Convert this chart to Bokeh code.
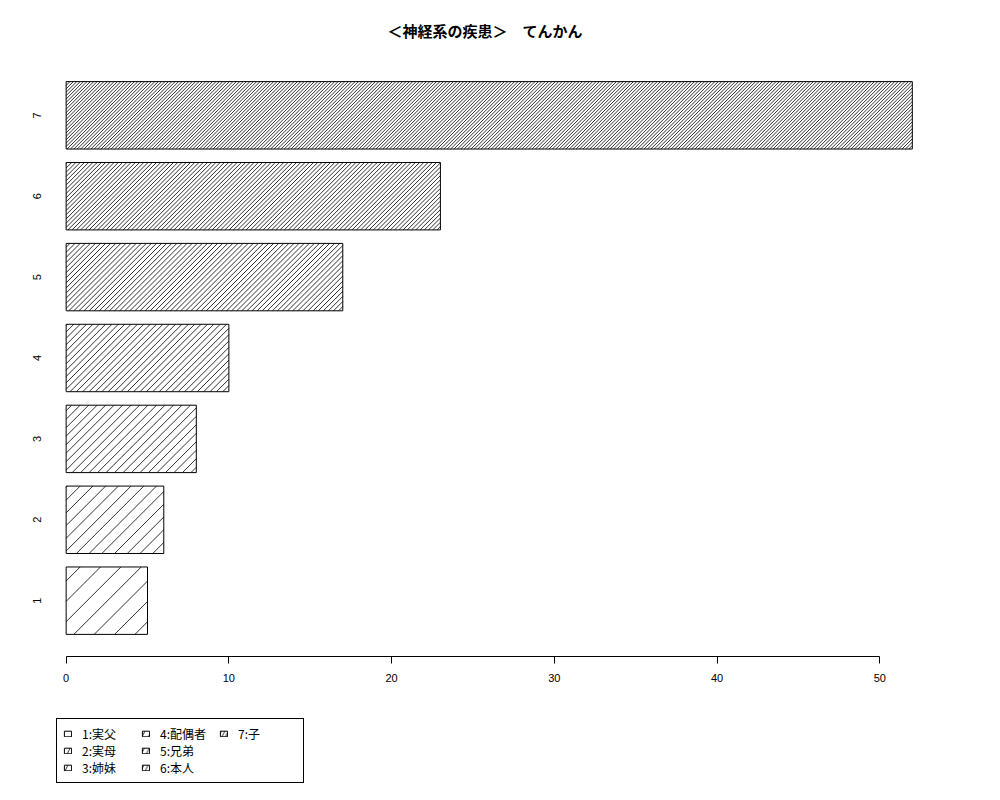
import math
from bokeh.plotting import figure
from bokeh.layouts import column
from bokeh.models import ColumnDataSource, Range1d, FixedTicker, Legend, LegendItem
from bokeh.core.properties import value
from bokeh.embed import file_html
from bokeh.resources import INLINE

# ---- data ----
categories = ["1", "2", "3", "4", "5", "6", "7"]
counts = [5, 6, 8, 10, 17, 23, 52]
legend_labels = ["1:実父", "2:実母", "3:姉妹", "4:配偶者", "5:兄弟", "6:本人", "7:子"]
title_text = "＜神経系の疾患＞　てんかん"
x_ticks = [0, 10, 20, 30, 40, 50]

# ---- style ----
hatch_density = [5, 8, 12, 16, 20, 24, 30]   # hatch lines per inch (R style)
LAT = "Liberation Sans, 'Noto Sans CJK JP'"
CJK = "'Noto Sans CJK JP', Liberation Sans"
FRAME_W, FRAME_H = 923, 597

n = len(counts)
bar_w, space = 1.0, 0.2
centers = [space + bar_w / 2 + i * (bar_w + space) for i in range(n)]

# R-style ranges (4% extension)
x_lo, x_hi = min(-0.01 * max(counts), 0), max(counts)
dx = 0.04 * (x_hi - x_lo)
y_lo, y_hi = space, n * (bar_w + space)
dy = 0.04 * (y_hi - y_lo)
xr = Range1d(x_lo - dx, x_hi + dx)
yr = Range1d(y_lo - dy, y_hi + dy)

spacing_px = [72 * math.sqrt(2) / d for d in hatch_density]
src = ColumnDataSource(dict(y=centers, count=counts, cat=categories,
                            hs=[2 * s for s in spacing_px]))

p = figure(frame_width=FRAME_W, frame_height=FRAME_H, x_range=xr, y_range=yr,
           output_backend="svg", toolbar_location=None, y_axis_location=None,
           min_border_left=23, min_border_right=46, min_border_top=57, min_border_bottom=41)
p.outline_line_color = None
p.xgrid.visible = False
p.ygrid.visible = False
p.background_fill_color = "white"
p.border_fill_color = "white"

p.title.text = title_text
p.title.align = "center"
p.title.vertical_align = "middle"
p.title.text_font = CJK
p.title.text_font_size = "15px"
p.title.text_font_style = "bold"
p.title.text_color = "black"
p.title.standoff = 36

ax = p.xaxis[0]
ax.ticker = FixedTicker(ticks=x_ticks)
ax.bounds = (x_ticks[0], x_ticks[-1])
ax.axis_line_color = "black"
ax.major_tick_line_color = "black"
ax.major_tick_out = 7
ax.major_tick_in = 0
ax.minor_tick_line_color = None
ax.major_label_standoff = 10
ax.major_label_text_font = LAT
ax.major_label_text_font_size = "11px"
ax.major_label_text_color = "black"

# bars (white fill)
p.hbar(y="y", left=0, right="count", height=bar_w, source=src,
       fill_color="white", line_color=None)

# 45-degree hatch lines, clipped to each bar (R-style shading)
kx = FRAME_W / (xr.end - xr.start)
ky = FRAME_H / (yr.end - yr.start)
hx0, hy0, hx1, hy1 = [], [], [], []
for i in range(n):
    s = spacing_px[i]
    W = counts[i] * kx
    H = bar_w * ky
    B = centers[i] - bar_w / 2
    c = -H + (14.0 % s)
    while c < W:
        u1 = max(0.0, c)
        u2 = min(W, H + c)
        if u2 - u1 > 0.3:
            hx0.append(u1 / kx); hy0.append(B + (u1 - c) / ky)
            hx1.append(u2 / kx); hy1.append(B + (u2 - c) / ky)
        c += s
p.segment(x0=hx0, y0=hy0, x1=hx1, y1=hy1, line_color="black", line_width=0.9, line_alpha=0.9)

# bar outlines
p.hbar(y="y", left=0, right="count", height=bar_w, source=src,
       fill_color=None, line_color="black", line_width=1)

# category labels (rotated, R-style left axis labels)
p.text(x=[xr.start] * n, y=centers, text=categories, angle=math.pi / 2, x_offset=13,
       text_align="center", text_baseline="middle",
       text_font=value("Liberation Sans"), text_font_size="11px", text_color="black")

# ---- legend panel ----
lf = figure(width=23 + FRAME_W + 46, height=100, x_range=Range1d(0, 1), y_range=Range1d(0, 1),
            output_backend="svg", toolbar_location=None,
            x_axis_location=None, y_axis_location=None,
            min_border_left=0, min_border_right=0, min_border_top=0, min_border_bottom=0)
lf.outline_line_color = None
lf.xgrid.visible = False
lf.ygrid.visible = False
lf.background_fill_color = "white"
lf.border_fill_color = "white"

lr = lf.hbar(y="y", left=0, right="count", height=bar_w, source=src,
             fill_color="white", line_color="black", line_width=1,
             hatch_pattern="/", hatch_scale="hs", hatch_color="black", hatch_weight=0.8)
lr.visible = False

items = [LegendItem(label=lbl, renderers=[lr], index=i) for i, lbl in enumerate(legend_labels)]
legend = Legend(items=items, nrows=3, orientation="vertical", location=(33, 14),
                border_line_color="black", border_line_width=1, border_line_alpha=1,
                padding=6, spacing=-5, margin=0,
                label_text_font=CJK, label_text_font_size="12px", label_text_color="black",
                glyph_width=9, glyph_height=7, label_height=15, label_width=59,
                label_standoff=10, background_fill_alpha=1)
lf.add_layout(legend, "center")

layout = column(p, lf, spacing=0)
open("out.html", "w").write(file_html(layout, INLINE))
